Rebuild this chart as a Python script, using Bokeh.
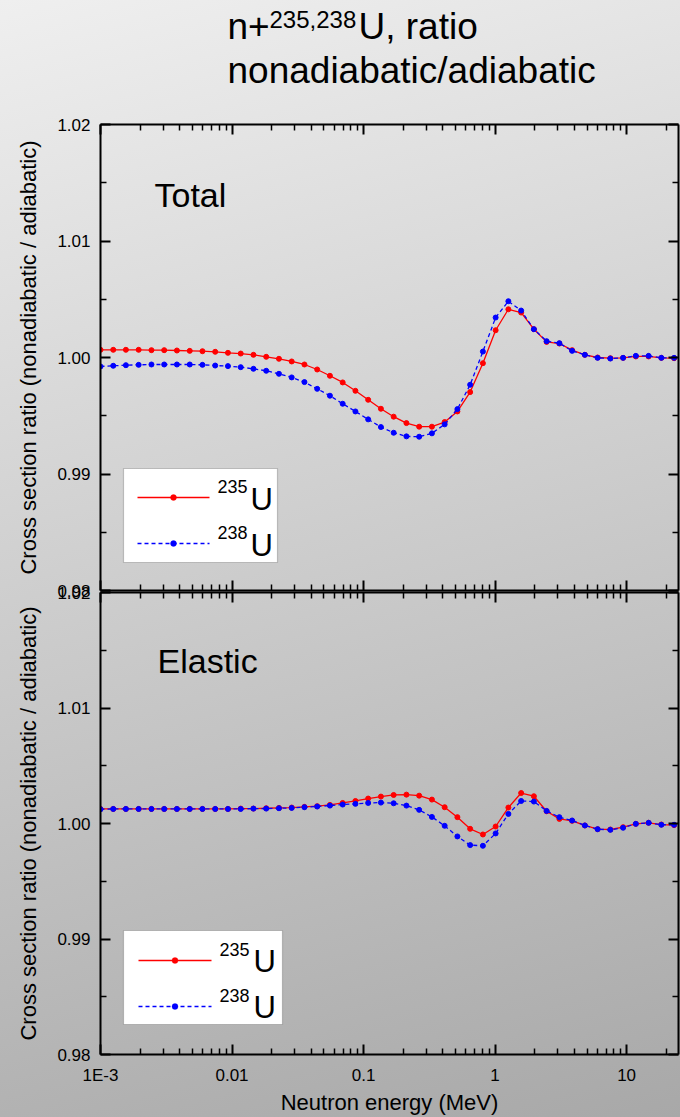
from bokeh.plotting import figure
from bokeh.layouts import column
from bokeh.models import (Range1d, FixedTicker, LinearAxis, LogAxis,
                          PrintfTickFormatter, Label, BoxAnnotation, Arrow)
from bokeh.embed import file_html
from bokeh.resources import INLINE

FONT = "Liberation Sans"

# Neutron energies (MeV) of the calculated points
energy_mev = [
    0.001, 0.00125, 0.00156, 0.00195, 0.00244, 0.00305, 0.00381, 0.00477,
    0.00596, 0.00745, 0.00931, 0.01164, 0.01455, 0.01819, 0.02274, 0.02842,
    0.03553, 0.04441, 0.05551, 0.06939, 0.08674, 0.1084, 0.1355, 0.1694,
    0.2118, 0.2647, 0.3309, 0.4136, 0.5170, 0.6462, 0.8078, 1.0097,
    1.262, 1.578, 1.972, 2.465, 3.081, 3.852, 4.815, 6.019,
    7.523, 9.404, 11.75, 14.69, 18.37, 22.96,
]

# Total cross section ratio, nonadiabatic / adiabatic
total_u235 = [
    1.00066, 1.00066, 1.00066, 1.00066, 1.00063, 1.00063, 1.00060, 1.00057,
    1.00054, 1.00049, 1.00040, 1.00034, 1.00023, 1.00006, 0.99989, 0.99966,
    0.99940, 0.99897, 0.99843, 0.99786, 0.99714, 0.99637, 0.99560, 0.99492,
    0.99437, 0.99406, 0.99406, 0.99446, 0.99537, 0.99703, 0.99951, 1.00234,
    1.00414, 1.00386, 1.00243, 1.00134, 1.00120, 1.00063, 1.00023, 1.00000,
    0.99994, 0.99997, 1.00009, 1.00009, 0.99997, 0.99994,
]
total_u238 = [
    0.99923, 0.99929, 0.99934, 0.99937, 0.99940, 0.99940, 0.99940, 0.99940,
    0.99937, 0.99931, 0.99926, 0.99917, 0.99903, 0.99886, 0.99860, 0.99829,
    0.99789, 0.99731, 0.99672, 0.99603, 0.99537, 0.99469, 0.99403, 0.99354,
    0.99323, 0.99320, 0.99349, 0.99426, 0.99557, 0.99766, 1.00051, 1.00343,
    1.00483, 1.00403, 1.00243, 1.00140, 1.00123, 1.00057, 1.00023, 0.99997,
    0.99991, 0.99997, 1.00014, 1.00014, 0.99997, 0.99997,
]

# Elastic cross section ratio, nonadiabatic / adiabatic
elastic_u235 = [
    1.00126, 1.00126, 1.00126, 1.00126, 1.00126, 1.00126, 1.00126, 1.00126,
    1.00126, 1.00126, 1.00126, 1.00129, 1.00129, 1.00132, 1.00135, 1.00138,
    1.00144, 1.00150, 1.00161, 1.00178, 1.00195, 1.00216, 1.00233, 1.00247,
    1.00250, 1.00241, 1.00207, 1.00141, 1.00055, 0.99954, 0.99905, 0.99974,
    1.00138, 1.00264, 1.00236, 1.00106, 1.00040, 1.00023, 0.99983, 0.99951,
    0.99948, 0.99968, 0.99997, 1.00006, 0.99991, 0.99986,
]
elastic_u238 = [
    1.00123, 1.00126, 1.00126, 1.00126, 1.00126, 1.00126, 1.00126, 1.00126,
    1.00126, 1.00126, 1.00126, 1.00126, 1.00129, 1.00129, 1.00132, 1.00135,
    1.00141, 1.00147, 1.00155, 1.00164, 1.00170, 1.00178, 1.00181, 1.00175,
    1.00155, 1.00118, 1.00057, 0.99980, 0.99888, 0.99813, 0.99807, 0.99914,
    1.00083, 1.00195, 1.00190, 1.00109, 1.00055, 1.00026, 0.99983, 0.99951,
    0.99945, 0.99963, 0.99997, 1.00006, 0.99989, 0.99989,
]

x_major = [0.001, 0.01, 0.1, 1, 10]
x_tick_labels = {0.001: "1E-3", 0.01: "0.01", 0.1: "0.1", 1: "1", 10: "10"}
x_minor = [m * d for d in x_major for m in range(2, 10)]
y_major = [0.98, 0.99, 1.00, 1.01, 1.02]
y_minor = [0.985, 0.995, 1.005, 1.015]

X_RANGE = (0.001, 24.8)
Y_RANGE = (0.98, 1.02)

RED = "#ff0000"
BLUE = "#0000ff"

# the two panels share their x-axis seam; their canvases overlap by this much
SEAM_OVERLAP = 20


def style_axis(ax, show_labels):
    ax.axis_line_width = 2
    ax.axis_line_color = "black"
    ax.major_tick_in = 10
    ax.major_tick_out = 0
    ax.minor_tick_in = 6
    ax.minor_tick_out = 0
    ax.major_tick_line_width = 2
    ax.minor_tick_line_width = 1.5
    ax.major_tick_line_color = "black"
    ax.minor_tick_line_color = "black"
    ax.major_label_text_font = FONT
    ax.major_label_text_font_size = "17px"
    ax.major_label_text_color = "black"
    ax.major_label_standoff = 10
    ax.axis_label_text_font = FONT
    ax.axis_label_text_font_size = "22px"
    ax.axis_label_text_font_style = "normal"
    ax.axis_label_text_color = "black"
    if not show_labels:
        ax.major_label_text_color = None
        ax.major_label_text_font_size = "0px"
        ax.major_label_standoff = 0


def x_ticker():
    return FixedTicker(ticks=x_major, minor_ticks=x_minor)


def y_ticker():
    return FixedTicker(ticks=y_major, minor_ticks=y_minor)


def make_panel(height, border_top, border_bottom, show_x_labels):
    p = figure(width=680, height=height, x_axis_type="log",
               x_range=Range1d(*X_RANGE), y_range=Range1d(*Y_RANGE),
               output_backend="svg", toolbar_location=None,
               min_border_left=100, min_border_right=2,
               min_border_top=border_top, min_border_bottom=border_bottom,
               background_fill_alpha=0, border_fill_alpha=0,
               outline_line_color=None)
    p.grid.visible = False

    xb = p.xaxis[0]
    xb.ticker = x_ticker()
    xb.major_label_overrides = x_tick_labels
    style_axis(xb, show_x_labels)
    if show_x_labels:
        xb.major_label_standoff = 11
        xb.axis_label = "Neutron energy (MeV)"
        xb.axis_label_standoff = 2

    yl = p.yaxis[0]
    yl.ticker = y_ticker()
    yl.formatter = PrintfTickFormatter(format="%.2f")
    yl.axis_label = "Cross section ratio (nonadiabatic / adiabatic)"
    yl.axis_label_standoff = 13
    style_axis(yl, True)

    xt = LogAxis(ticker=x_ticker())
    style_axis(xt, False)
    p.add_layout(xt, "above")

    yr = LinearAxis(ticker=y_ticker())
    style_axis(yr, False)
    p.add_layout(yr, "right")
    return p


def add_curves(p, y235, y238):
    p.line(energy_mev, y235, line_color=RED, line_width=1.3)
    p.scatter(energy_mev, y235, size=5, fill_color=RED, line_color=RED)
    p.line(energy_mev, y238, line_color=BLUE, line_width=1.3, line_dash="4 3")
    p.scatter(energy_mev, y238, size=5, fill_color=BLUE, line_color=BLUE)


def screen_label(p, x, y, text, size):
    p.add_layout(Label(x=x, y=y, x_units="screen", y_units="screen",
                       text=text, text_font=FONT, text_font_size=size,
                       text_color="black", text_align="left",
                       text_baseline="alphabetic"))


def add_legend(p, box, rows):
    left, right, top, bottom = box
    p.add_layout(BoxAnnotation(left=left, right=right, top=top, bottom=bottom,
                               left_units="screen", right_units="screen",
                               top_units="screen", bottom_units="screen",
                               fill_color="white", fill_alpha=1,
                               line_color="#4d4d4d", line_width=1.2))
    for (x0, x1, y, color, dash, sup, sx, sup_y, u_x, u_y) in rows:
        p.add_layout(Arrow(end=None, x_start=x0, y_start=y, x_end=x1, y_end=y,
                           start_units="screen", end_units="screen",
                           line_color=color, line_width=1.3, line_dash=dash))
        xm = (x0 + x1) / 2
        p.add_layout(BoxAnnotation(left=xm - 3, right=xm + 3,
                                   top=y + 3, bottom=y - 3,
                                   left_units="screen", right_units="screen",
                                   top_units="screen", bottom_units="screen",
                                   fill_color=color, fill_alpha=1,
                                   line_color=color, border_radius=3))
        screen_label(p, sx, sup_y, sup, "18px")
        screen_label(p, u_x, u_y, "U", "31px")


# Title block (its frame lines up with the panels' frames below)
title = figure(width=680, height=110, x_range=Range1d(0, 1),
               y_range=Range1d(0, 1), output_backend="svg",
               toolbar_location=None, min_border=0,
               min_border_left=100, min_border_right=2,
               x_axis_location=None, y_axis_location=None,
               background_fill_alpha=0, border_fill_alpha=0,
               outline_line_color=None)
title.grid.visible = False
screen_label(title, 127, 84, "n+", "37px")
screen_label(title, 169, 91, "235,238", "24px")
screen_label(title, 258, 84, "U, ratio", "37px")
screen_label(title, 127, 40, "nonadiabatic/adiabatic", "37px")

# Upper panel: total cross section
half = SEAM_OVERLAP // 2
top = make_panel(height=481 + half, border_top=14, border_bottom=1 + half,
                 show_x_labels=False)
add_curves(top, total_u235, total_u238)
screen_label(top, 54, 396, "Total", "34px")
add_legend(top, (23, 177, 122, 28), [
    (37, 109, 93, RED, "solid", "235", 117, 104, 150, 91),
    (37, 109, 47, BLUE, "4 3", "238", 117, 58, 150, 45),
])

# Lower panel: elastic cross section, pulled up so both x axes meet at the seam
bottom = make_panel(height=526 + half, border_top=1 + half, border_bottom=61,
                    show_x_labels=True)
bottom.styles = {"margin-top": f"-{SEAM_OVERLAP}px"}
add_curves(bottom, elastic_u235, elastic_u238)
screen_label(bottom, 57, 394, "Elastic", "34px")
add_legend(bottom, (23, 182, 124, 30), [
    (38, 111, 94, RED, "solid", "235", 119, 105, 153, 93),
    (38, 111, 48, BLUE, "4 3", "238", 119, 59, 153, 47),
])

layout = column(title, top, bottom, spacing=0,
                styles={"background": "linear-gradient(165deg, #efefef 0%, #a8a8a8 100%)"})

open("out.html", "w").write(file_html(layout, INLINE))
